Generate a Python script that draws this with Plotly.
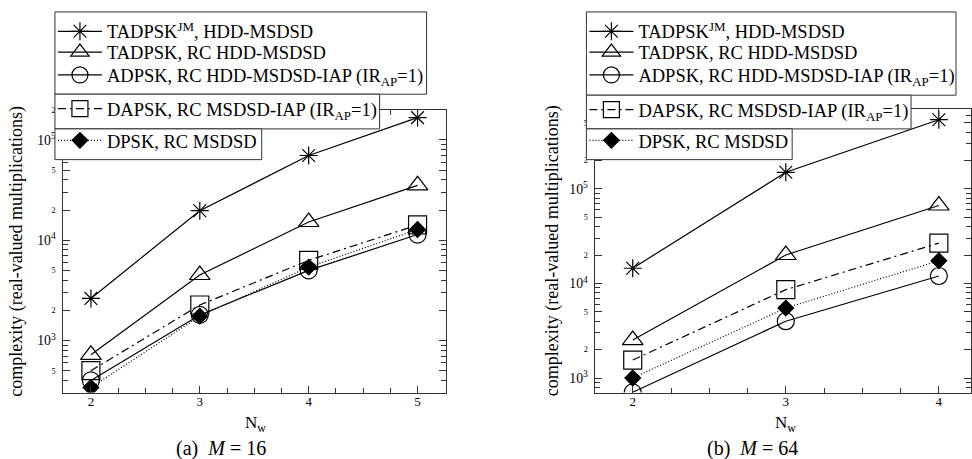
import plotly.graph_objects as go

W, H = 972, 459

# ---------------- data ----------------
nw_16 = [2, 3, 4, 5]
nw_64 = [2, 3, 4]

m16_tadpsk_jm = [2630, 19700, 70000, 167000]
m16_tadpsk_rc = [720, 4500, 15200, 35300]
m16_adpsk_rc = [400, 1800, 5000, 11400]
m16_dapsk_rc = [500, 2260, 6300, 14200]
m16_dpsk_rc = [340, 1750, 5400, 12800]

m64_tadpsk_jm = [14500, 150000, 540000]
m64_tadpsk_rc = [2520, 20000, 66800]
m64_adpsk_rc = [706, 3990, 12000]
m64_dapsk_rc = [1550, 8600, 26700]
m64_dpsk_rc = [1000, 5500, 17400]

series_names = [
    "TADPSK<sup>JM</sup>, HDD-MSDSD",
    "TADPSK, RC HDD-MSDSD",
    "ADPSK, RC HDD-MSDSD-IAP (IR<sub>AP</sub>=1)",
    "DAPSK, RC MSDSD-IAP (IR<sub>AP</sub>=1)",
    "DPSK, RC MSDSD",
]
y_title = "complexity (real-valued multiplications)"
x_title = "N<sub>w</sub>"
captions = ["(a)  <i>M</i> = 16", "(b)  <i>M</i> = 64"]

# ---------------- styles ----------------
FONT = "Liberation Serif"
LC = "#333333"
styles = [
    dict(symbol="asterisk-open", size=15, dash="solid"),
    dict(symbol="triangle-up-open", size=18, dash="solid"),
    dict(symbol="circle-open", size=17, dash="solid"),
    dict(symbol="square-open", size=18, dash="8px,4px,2px,4px"),
    dict(symbol="diamond", size=12, dash="1px,2px"),
]


def px_x(p):
    return p / W


def px_y(p):
    return 1 - p / H


fig = go.Figure()

left_data = [m16_tadpsk_jm, m16_tadpsk_rc, m16_adpsk_rc, m16_dapsk_rc, m16_dpsk_rc]
right_data = [m64_tadpsk_jm, m64_tadpsk_rc, m64_adpsk_rc, m64_dapsk_rc, m64_dpsk_rc]

legend_ids = []
for panel, (xs, data, xa, ya) in enumerate(
    [(nw_16, left_data, "x", "y"), (nw_64, right_data, "x2", "y2")]
):
    for i, (vals, st) in enumerate(zip(data, styles)):
        lid = panel * 5 + i + 1
        lname = "legend" if lid == 1 else f"legend{lid}"
        legend_ids.append(lname)
        fig.add_trace(
            go.Scatter(
                x=xs,
                y=vals,
                xaxis=xa,
                yaxis=ya,
                mode="lines+markers",
                name=series_names[i],
                legend=lname,
                showlegend=True,
                line=dict(color="black", width=1.2, dash=st["dash"]),
                marker=dict(
                    symbol=st["symbol"],
                    size=st["size"],
                    color="black",
                    line=dict(color="black", width=1.2),
                ),
            )
        )

# ---------------- layout: axes ----------------
L_dom = [px_x(63), px_x(446)]
R_dom = [px_x(595.7), 1.0]
Y_dom_L = [px_y(392), px_y(106.5)]
Y_dom_R = [px_y(392), px_y(105.5)]


def xax(domain, rng, anchor):
    return dict(
        domain=domain, range=rng, anchor=anchor, dtick=1, tick0=2,
        ticks="inside", ticklen=7, tickcolor=LC, showline=True, linecolor=LC,
        linewidth=1, mirror="ticks", showgrid=False, zeroline=False,
        ticklabelstandoff=-3,
        tickfont=dict(size=13, family=FONT, color="black"),
        minor=dict(dtick=0.25, tick0=2, ticks="inside", ticklen=5, tickcolor=LC, showgrid=False),
    )


def yax(domain, rng, anchor):
    return dict(
        domain=domain, range=rng, anchor=anchor, type="log", dtick="D2",
        exponentformat="power", ticks="inside", ticklen=7, tickcolor=LC,
        showline=True, linecolor=LC, linewidth=1, mirror="ticks",
        showgrid=False, zeroline=False, ticklabelstandoff=4,
        tickfont=dict(size=11, family=FONT, color="black"),
        minor=dict(dtick="D1", ticks="inside", ticklen=5, tickcolor=LC, showgrid=False),
    )


layout = dict(
    width=W, height=H,
    margin=dict(l=0, r=0, t=0, b=0),
    paper_bgcolor="white", plot_bgcolor="white",
    font=dict(family=FONT, color="black"),
    showlegend=True,
    xaxis=xax(L_dom, [1.743, 5.257], "y"),
    yaxis=yax(Y_dom_L, [2.481, 5.303], "x"),
    xaxis2=xax(R_dom, [1.754, 4.21], "y2"),
    yaxis2=yax(Y_dom_R, [2.846, 5.85], "x2"),
)

# ---------------- legend boxes (shapes) ----------------
boxes = [
    # left panel
    (55, 8, 427, 91), (55, 91, 380, 126), (55, 126, 262, 157),
    # right panel
    (587, 8, 957, 92), (587, 92, 912, 126), (587, 126, 793, 157),
]
shapes = []
for (x0, y0, x1, y1) in boxes:
    shapes.append(dict(
        type="rect", xref="paper", yref="paper",
        x0=px_x(x0), x1=px_x(x1), y0=px_y(y1), y1=px_y(y0),
        line=dict(color=LC, width=1), fillcolor="white", layer="above",
    ))
layout["shapes"] = shapes

# legend rows: (box left px, row center px)
row_y_left = [28, 49, 72, 106, 138]
row_y_right = [28, 49, 72, 107, 138]
for k, lname in enumerate(legend_ids):
    panel, i = divmod(k, 5)
    bx = 55 if panel == 0 else 587
    ry = (row_y_left if panel == 0 else row_y_right)[i]
    layout[lname] = dict(
        x=px_x(bx - 2), y=px_y(ry), xanchor="left", yanchor="middle",
        xref="paper", yref="paper", visible=True,
        bgcolor="rgba(0,0,0,0)", borderwidth=0, itemwidth=44,
        font=dict(size=18.5, family=FONT, color="black"),
    )

# ---------------- annotations ----------------
ann = [
    dict(text=y_title, x=px_x(17), y=px_y(249), textangle=-90),
    dict(text=y_title, x=px_x(553), y=px_y(249), textangle=-90),
    dict(text=x_title, x=px_x(256), y=px_y(424), font=dict(size=17, family=FONT, color="black")),
    dict(text=x_title, x=px_x(786), y=px_y(424), font=dict(size=17, family=FONT, color="black")),
    dict(text=captions[0], x=px_x(221), y=px_y(448), font=dict(size=20, family=FONT, color="black")),
    dict(text=captions[1], x=px_x(753), y=px_y(448), font=dict(size=20, family=FONT, color="black")),
]
for a in ann:
    a.update(xref="paper", yref="paper", showarrow=False, xanchor="center", yanchor="middle")
    a.setdefault("font", dict(size=18, family=FONT, color="black"))
layout["annotations"] = ann

fig.update_layout(**layout)
fig.write_html("out.html")
